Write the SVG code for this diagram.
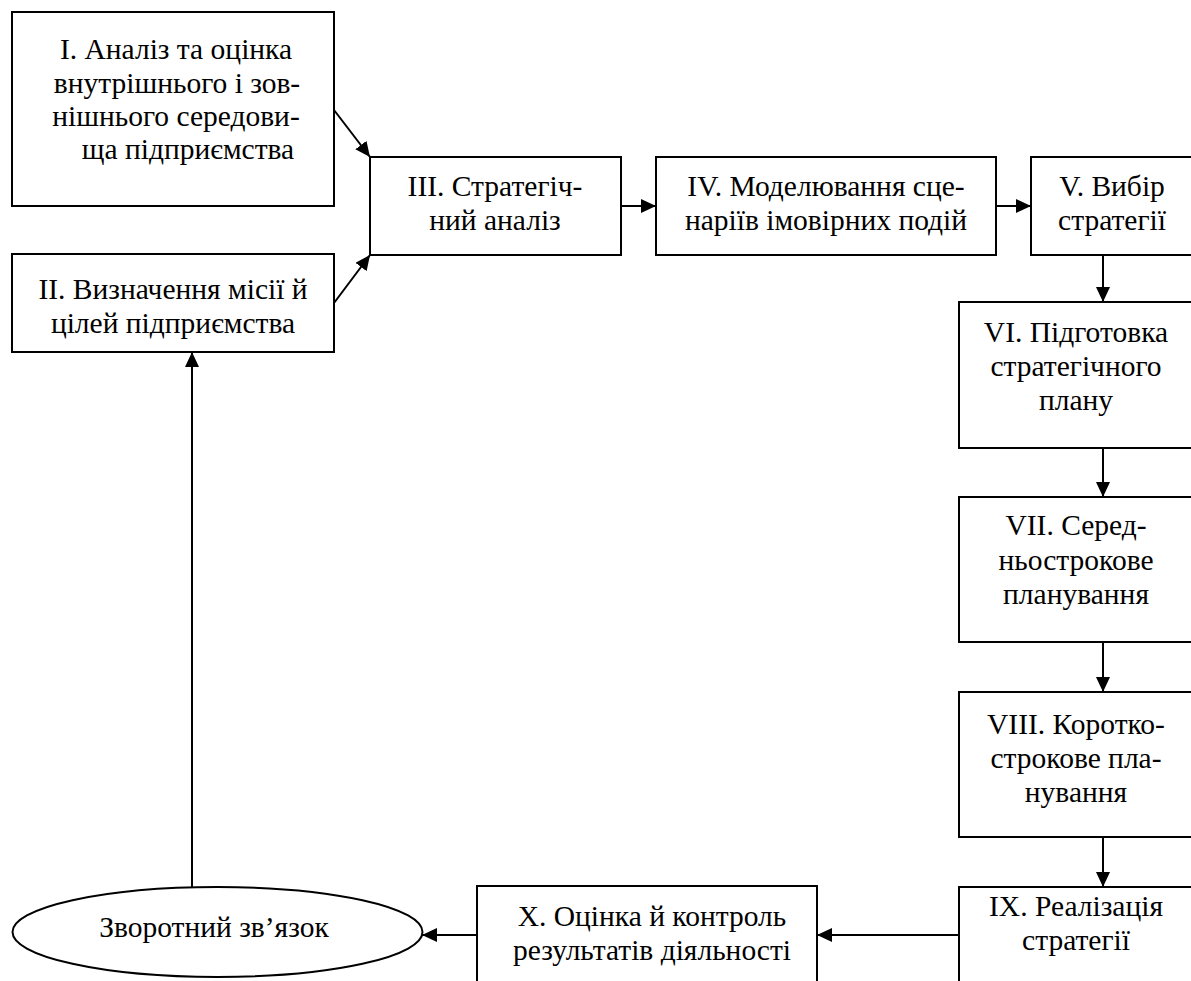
<svg xmlns="http://www.w3.org/2000/svg" width="1191" height="981" viewBox="0 0 1191 981">
<style>
.box{fill:#fff;stroke:#000;stroke-width:2}
.t{font-family:"Liberation Serif","Times New Roman",serif;font-size:29.5px;fill:#000;text-anchor:middle}
.c{stroke:#000;stroke-width:2;fill:none;marker-end:url(#ah)}
</style>
<defs>
<marker id="ah" markerUnits="userSpaceOnUse" markerWidth="16" markerHeight="14" refX="15" refY="7" orient="auto">
<path d="M0,0 L15,7 L0,14 Z" fill="#000"/>
</marker>
</defs>
<rect width="1191" height="981" fill="#fff"/>
<g id="connectors">
<line class="c" x1="334" y1="110" x2="370" y2="157"/>
<line class="c" x1="334" y1="303" x2="370" y2="255"/>
<line class="c" x1="621" y1="206" x2="656" y2="206"/>
<line class="c" x1="996" y1="206" x2="1031" y2="206"/>
<line class="c" x1="1103" y1="255" x2="1103" y2="302"/>
<line class="c" x1="1103" y1="448" x2="1103" y2="497"/>
<line class="c" x1="1103" y1="642" x2="1103" y2="692"/>
<line class="c" x1="1103" y1="837" x2="1103" y2="887"/>
<line class="c" x1="959" y1="935" x2="817" y2="935"/>
<line class="c" x1="477" y1="935" x2="422" y2="935"/>
<line class="c" x1="192" y1="887" x2="192" y2="352"/>
</g>
<g id="n1">
<rect class="box" x="12" y="12" width="322" height="194"/>
<text class="t" x="176" y="59">I. Аналіз та оцінка</text>
<text class="t" x="177" y="93">внутрішнього і зов-</text>
<text class="t" x="176" y="126">нішнього середови-</text>
<text class="t" x="188" y="159">ща підприємства</text>
</g>
<g id="n2">
<rect class="box" x="12" y="254" width="322" height="98"/>
<text class="t" x="173" y="299">II. Визначення місії й</text>
<text class="t" x="173" y="333">цілей підприємства</text>
</g>
<g id="n3">
<rect class="box" x="370" y="157" width="251" height="98"/>
<text class="t" x="495" y="196">III. Стратегіч-</text>
<text class="t" x="495" y="230">ний аналіз</text>
</g>
<g id="n4">
<rect class="box" x="656" y="157" width="340" height="98"/>
<text class="t" x="826" y="196">IV. Моделювання сце-</text>
<text class="t" x="826" y="230">наріїв імовірних подій</text>
</g>
<g id="n5">
<rect class="box" x="1031" y="157" width="170" height="98"/>
<text class="t" x="1112" y="196">V. Вибір</text>
<text class="t" x="1112" y="230">стратегії</text>
</g>
<g id="n6">
<rect class="box" x="959" y="302" width="240" height="146"/>
<text class="t" x="1076" y="342">VI. Підготовка</text>
<text class="t" x="1076" y="376">стратегічного</text>
<text class="t" x="1076" y="410">плану</text>
</g>
<g id="n7">
<rect class="box" x="959" y="497" width="240" height="145"/>
<text class="t" x="1076" y="535">VII. Серед-</text>
<text class="t" x="1076" y="570">ньострокове</text>
<text class="t" x="1076" y="604">планування</text>
</g>
<g id="n8">
<rect class="box" x="959" y="692" width="240" height="145"/>
<text class="t" x="1076" y="734">VIII. Коротко-</text>
<text class="t" x="1076" y="768">строкове пла-</text>
<text class="t" x="1076" y="802">нування</text>
</g>
<g id="n9">
<rect class="box" x="959" y="887" width="240" height="110"/>
<text class="t" x="1076" y="916">IX. Реалізація</text>
<text class="t" x="1076" y="950">стратегії</text>
</g>
<g id="n10">
<rect class="box" x="477" y="886" width="340" height="110"/>
<text class="t" x="652" y="926">X. Оцінка й контроль</text>
<text class="t" x="652" y="960">результатів діяльності</text>
</g>
<g id="n11">
<ellipse class="box" cx="217.5" cy="932" rx="205" ry="45"/>
<text class="t" x="214" y="937">Зворотний зв’язок</text>
</g>
</svg>
